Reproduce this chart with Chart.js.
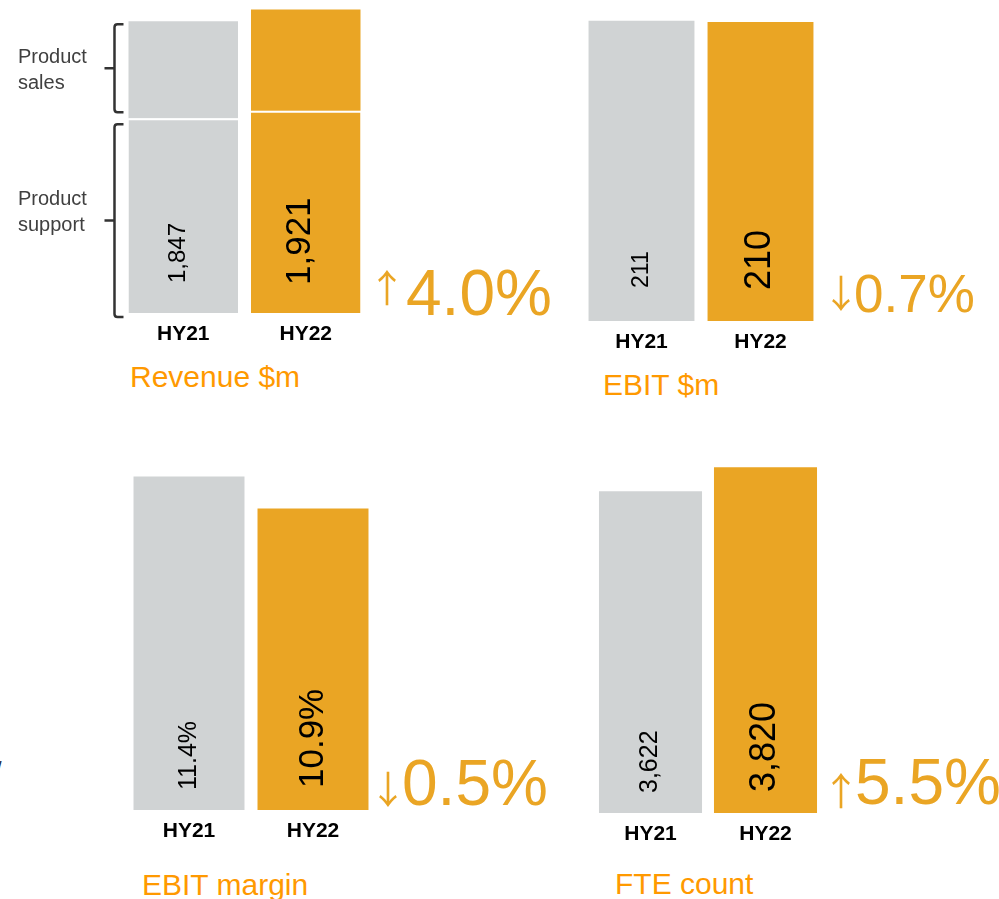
<!DOCTYPE html>
<html>
<head>
<meta charset="utf-8">
<script src="https://cdn.jsdelivr.net/npm/chart.js@4.4.1/dist/chart.umd.min.js"></script>
<style>
    body { margin: 0; background: #fff; font-family: "Liberation Sans", Arial, sans-serif; }
    #page { position: relative; width: 999px; height: 899px; overflow: hidden; }
    canvas { position: absolute; }
    .title { position: absolute; font-size: 30px; line-height: 30px; color: #FF9900; white-space: nowrap; }
    .side { position: absolute; left: 18px; font-size: 20px; line-height: 26px; color: #404040; }
    .cut { position: absolute; left: -4px; top: 758px; font-size: 20px; color: #1F2A44; }
</style>
</head>
<body>
<div id="page">
    <canvas id="revenue-js" width="500" height="348" style="left:61px;top:5px"></canvas>
    <canvas id="ebit-js" width="398" height="346" style="left:582px;top:15px"></canvas>
    <canvas id="margin-js" width="423" height="380" style="left:127px;top:470px"></canvas>
    <canvas id="fte-js" width="406" height="393" style="left:593px;top:460px"></canvas>

    <div class="side" style="top:43px">Product<br>sales</div>
    <div class="side" style="top:185px">Product<br>support</div>

    <div class="title" style="left:130px;top:362px">Revenue $m</div>
    <div class="title" style="left:603px;top:370px">EBIT $m</div>
    <div class="title" style="left:142px;top:870px">EBIT margin</div>
    <div class="title" style="left:615px;top:869px">FTE count</div>
    <div class="cut">/</div>
</div>
<script>
const FONT = '"Liberation Sans", Arial, sans-serif';
const ARROW_FONT = '"Noto Sans CJK JP", "DejaVu Sans", sans-serif';

const periods = ['HY21', 'HY22'];
const productSupport = [1233, 1280];
const productSales = [614, 641];
const ebit = [211, 210];
const ebitMargin = [11.4, 10.9];
const fteCount = [3622, 3820];
const changes = ['↑4.0%', '↓0.7%', '↓0.5%', '↑5.5%'];

const GREY = '#D0D3D4';
const ORANGE = '#EAA524';
const barColors = [GREY, ORANGE];

const fmt = v => v.toLocaleString('en-US');

// rotated value labels inside the bars + the big change figure to the right
const barLabels = {
    id: 'barLabels',
    afterDatasetsDraw(chart, args, opts) {
        const ctx = chart.ctx;
        const area = chart.chartArea;
        const meta = chart.getDatasetMeta(0);
        ctx.save();
        ctx.fillStyle = '#000';
        ctx.textAlign = 'left';
        ctx.textBaseline = 'middle';
        opts.labels.forEach((text, i) => {
            ctx.save();
            ctx.translate(meta.data[i].x + (opts.dx || 0), area.bottom - opts.lift[i]);
            ctx.rotate(-Math.PI / 2);
            ctx.font = opts.sizes[i] + 'px ' + FONT;
            ctx.fillText(text, 0, 0);
            ctx.restore();
        });

        const c = opts.change;
        const x0 = area.right + c.dx;
        const base = area.bottom + c.dy;
        ctx.fillStyle = ORANGE;
        ctx.textBaseline = 'alphabetic';
        ctx.font = c.arrowSize + 'px ' + ARROW_FONT;
        ctx.fillText(c.text[0], x0, base - c.arrowLift);
        ctx.font = c.size + 'px ' + FONT;
        ctx.fillText(c.text.slice(1), x0 + c.numDx, base);
        ctx.restore();
    }
};

// curly-ish brackets left of the revenue bars
const brackets = {
    id: 'brackets',
    afterDatasetsDraw(chart) {
        const ctx = chart.ctx;
        const y = chart.scales.y;
        const bar = chart.getDatasetMeta(0).data[0];
        const left = bar.x - bar.width / 2;
        const xLine = left - 14, hookX = left - 5, tickX = left - 24;
        const spans = [
            [y.getPixelForValue(productSupport[0] + productSales[0]) + 3, y.getPixelForValue(productSupport[0]) - 6],
            [y.getPixelForValue(productSupport[0]) + 6, y.getPixelForValue(0) + 4]
        ];
        ctx.save();
        ctx.strokeStyle = '#333';
        ctx.lineWidth = 2.5;
        spans.forEach(([top, bot]) => {
            ctx.beginPath();
            ctx.moveTo(hookX, top);
            ctx.lineTo(xLine + 3, top);
            ctx.quadraticCurveTo(xLine, top, xLine, top + 3);
            ctx.lineTo(xLine, bot - 3);
            ctx.quadraticCurveTo(xLine, bot, xLine + 3, bot);
            ctx.lineTo(hookX, bot);
            const mid = (top + bot) / 2;
            ctx.moveTo(xLine, mid);
            ctx.lineTo(tickX, mid);
            ctx.stroke();
        });
        ctx.restore();
    }
};

function baseOptions(yScale, padding, labelOpts) {
    return {
        responsive: false,
        animation: false,
        layout: { padding: padding },
        plugins: {
            legend: { display: false },
            tooltip: { enabled: false },
            barLabels: labelOpts
        },
        scales: {
            x: {
                stacked: true,
                grid: { display: false, drawTicks: false },
                border: { display: false },
                ticks: { color: '#000', padding: 9, font: { family: FONT, size: 21, weight: 'bold' } },
                afterFit(axis) { axis.height = 40; }
            },
            y: Object.assign({ display: false, stacked: true }, yScale)
        }
    };
}

function simpleBar(id, values, yScale, padding, labelOpts) {
    return new Chart(document.getElementById(id).getContext('2d'), {
        type: 'bar',
        data: {
            labels: periods,
            datasets: [{
                data: values,
                backgroundColor: barColors,
                borderWidth: 0,
                categoryPercentage: 1,
                barPercentage: labelOpts.barPct
            }]
        },
        options: baseOptions(yScale, padding, labelOpts),
        plugins: [barLabels]
    });
}

new Chart(document.getElementById('revenue-js').getContext('2d'), {
    type: 'bar',
    data: {
        labels: periods,
        datasets: [{
            label: 'Product support',
            data: productSupport,
            backgroundColor: barColors,
            borderColor: '#fff',
            borderWidth: { top: 2, right: 0, bottom: 0, left: 0 },
            categoryPercentage: 1,
            barPercentage: 0.894
        }, {
            label: 'Product sales',
            data: productSales,
            backgroundColor: barColors,
            borderWidth: 0,
            categoryPercentage: 1,
            barPercentage: 0.894
        }]
    },
    options: baseOptions({ min: 0, max: 1950 }, { left: 61, right: 194 }, {
        labels: productSupport.map((v, i) => fmt(v + productSales[i])),
        sizes: [24, 35], lift: [30, 28], dx: -5,
        change: { text: changes[0], dx: 1, dy: 2, size: 64, arrowSize: 38, arrowLift: 13, numDx: 38 }
    }),
    plugins: [barLabels, brackets]
});

simpleBar('ebit-js', ebit, { min: 0, max: 215 }, { right: 160 }, {
    barPct: 0.89,
    labels: ebit.map(fmt),
    sizes: [23, 36], lift: [33, 31],
    change: { text: changes[1], dx: 2, dy: -9, size: 53, arrowSize: 38, arrowLift: 5, numDx: 32 }
});

simpleBar('margin-js', ebitMargin, { min: 6.2, max: 11.5 }, { right: 175 }, {
    barPct: 0.895,
    labels: ebitMargin.map(v => v.toFixed(1) + '%'),
    sizes: [25, 35], lift: [20, 22],
    change: { text: changes[2], dx: -6, dy: -5, size: 64, arrowSize: 38, arrowLift: 2, numDx: 33 }
});

simpleBar('fte-js', fteCount, { min: 960, max: 3880 }, { right: 176 }, {
    barPct: 0.896,
    labels: fteCount.map(fmt),
    sizes: [25, 36], lift: [20, 21],
    change: { text: changes[3], dx: -1, dy: -9, size: 64, arrowSize: 38, arrowLift: -1, numDx: 33 }
});
</script>
</body>
</html>
